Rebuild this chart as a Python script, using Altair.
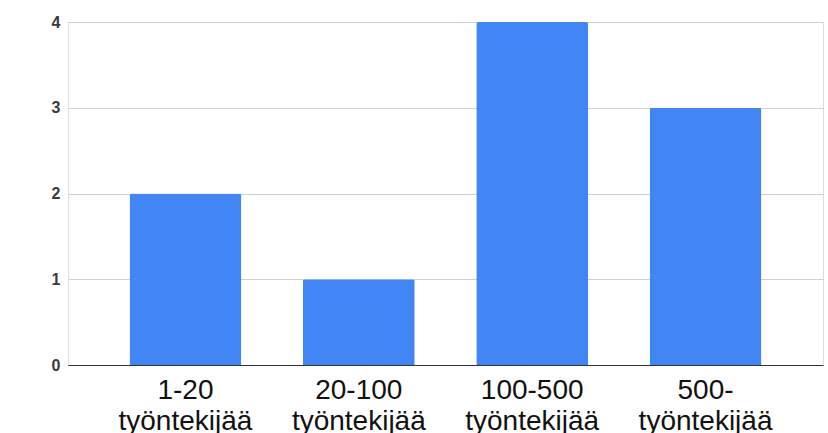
import altair as alt
import pandas as pd

# Respondents by company size
categories = ["1-20 työntekijää", "20-100 työntekijää", "100-500 työntekijää", "500- työntekijää"]
counts = [2, 1, 4, 3]
y_ticks = [0, 1, 2, 3, 4]

df = pd.DataFrame({"koko": categories, "maara": counts})

FONT = "Liberation Sans"

chart = (
    alt.Chart(df)
    .mark_bar(color="#4285F4", cornerRadiusTopLeft=2, cornerRadiusTopRight=2)
    .encode(
        x=alt.X(
            "koko:N",
            sort=categories,
            title=None,
            scale=alt.Scale(paddingInner=0.355, paddingOuter=0.355),
            axis=alt.Axis(
                labelAngle=0,
                labelExpr="split(datum.label, ' ')",
                labelFontSize=28,
                labelLineHeight=31,
                labelColor="#111",
                labelFont=FONT,
                labelPadding=11,
                ticks=False,
                domainColor="#333",
                domainWidth=1.2,
                labelBaseline="top",
            ),
        ),
        y=alt.Y(
            "maara:Q",
            title=None,
            scale=alt.Scale(domain=[0, 4], nice=False),
            axis=alt.Axis(
                values=y_ticks,
                format="d",
                labelFontSize=16,
                labelFont=FONT,
                labelFontWeight="bold",
                labelColor="#3a3a3a",
                labelPadding=8,
                ticks=False,
                domain=False,
                gridColor="#d0d0d0",
                gridWidth=1,
            ),
        ),
    )
    .properties(
        width=755,
        height=343,
        autosize=alt.AutoSizeParams(type="none"),
        padding={"left": 68, "top": 22, "right": 5, "bottom": 68},
    )
    .configure_view(stroke=None)
    .configure(background="white")
)

chart.save("out.html", embed_options={"renderer": "svg", "actions": False})
